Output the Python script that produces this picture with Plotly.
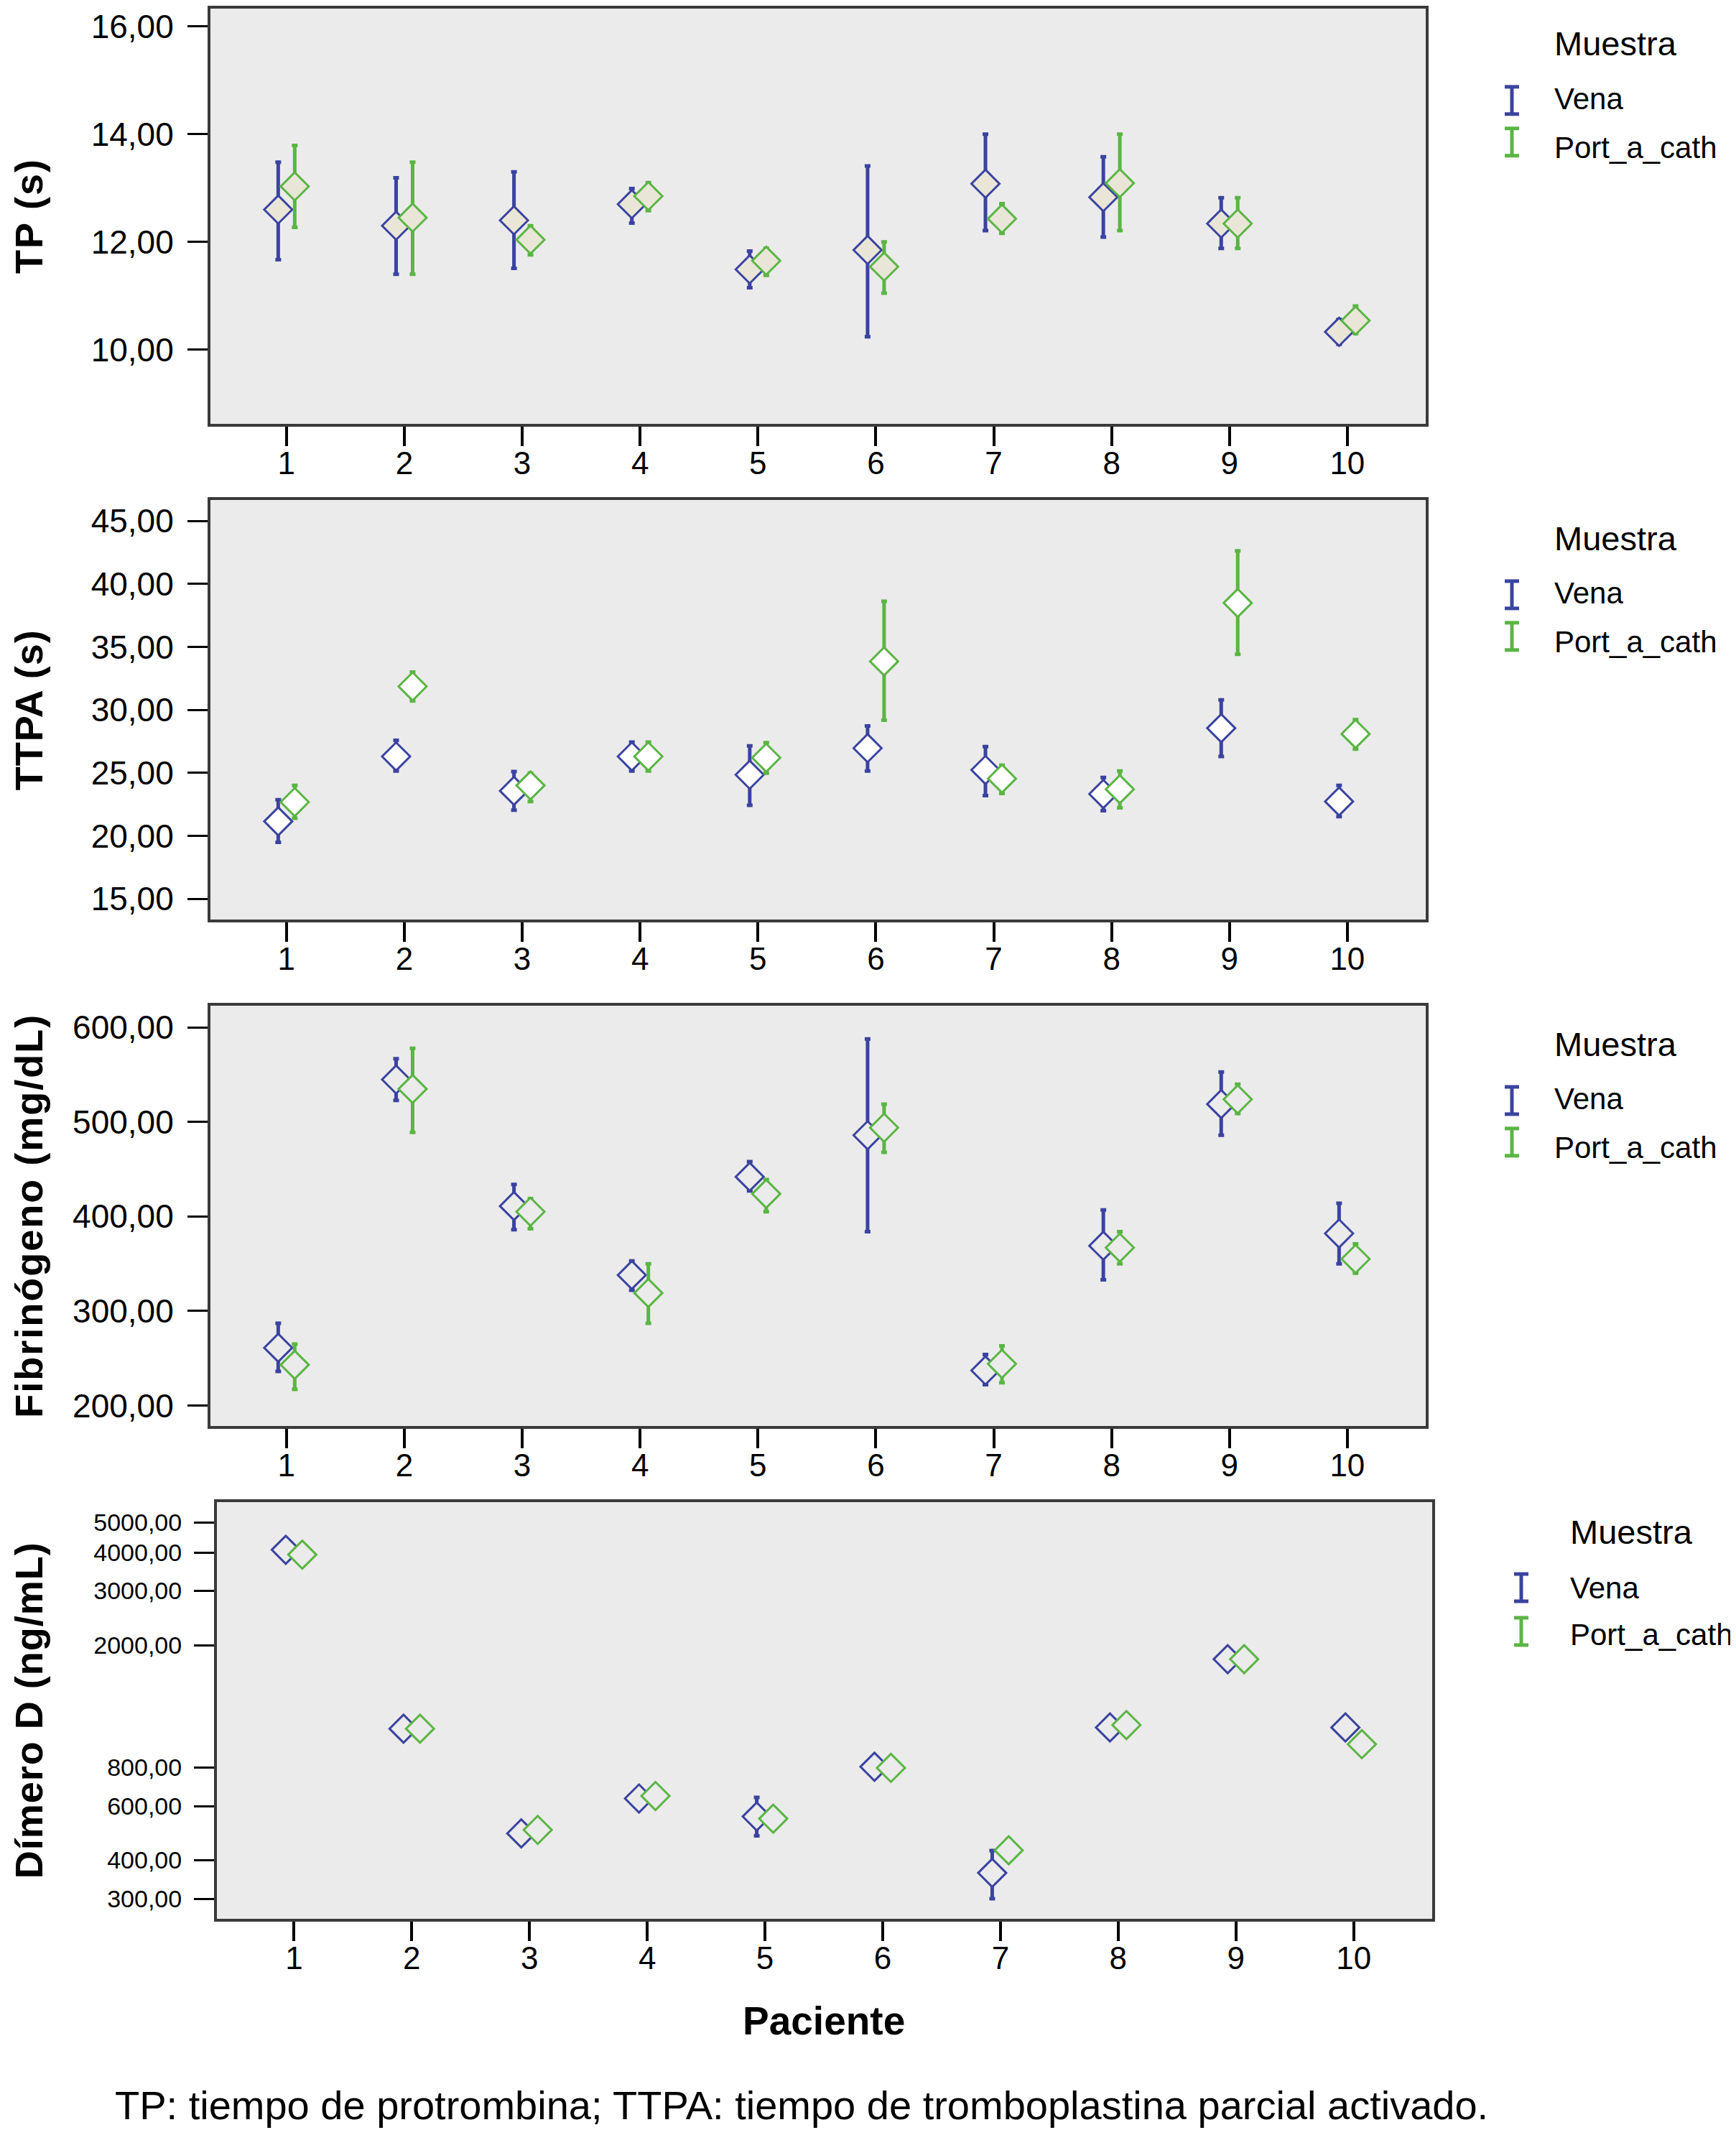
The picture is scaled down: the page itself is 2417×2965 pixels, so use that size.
import plotly.graph_objects as go
from plotly.subplots import make_subplots

W, H = 2417, 2965
# the page body adds an 8px margin, so the figure is drawn 8px in from the corner
PAD = 8
FW, FH = W - PAD, H - PAD

pacientes = [1, 2, 3, 4, 5, 6, 7, 8, 9, 10]

# TP (s)
tp_vena = [12.60, 12.30, 12.40, 12.70, 11.49, 11.85, 13.08, 12.83, 12.34, 10.33]
tp_vena_lo = [11.67, 11.40, 11.51, 12.35, 11.15, 10.24, 12.21, 12.09, 11.88, 10.10]
tp_vena_hi = [13.48, 13.19, 13.30, 12.99, 11.83, 13.41, 14.00, 13.58, 12.82, 10.56]
tp_port = [13.03, 12.45, 12.04, 12.85, 11.65, 11.54, 12.43, 13.09, 12.34, 10.54]
tp_port_lo = [12.27, 11.40, 11.76, 12.58, 11.38, 11.05, 12.16, 12.21, 11.88, 10.30]
tp_port_hi = [13.79, 13.48, 12.30, 13.10, 11.88, 12.00, 12.71, 14.00, 12.82, 10.81]

# TTPA (s)
ttpa_vena = [21.15, 26.30, 23.57, 26.30, 24.85, 26.96, 25.23, 23.32, 28.55, 22.73]
ttpa_vena_lo = [19.49, 25.15, 22.04, 25.15, 22.42, 25.15, 23.19, 21.99, 26.30, 21.53]
ttpa_vena_hi = [22.86, 27.58, 25.10, 27.45, 27.14, 28.72, 27.09, 24.64, 30.79, 24.00]
ttpa_port = [22.68, 31.86, 24.00, 26.30, 26.20, 33.85, 24.54, 23.70, 38.49, 28.09]
ttpa_port_lo = [21.40, 30.71, 22.73, 25.15, 24.97, 29.18, 23.37, 22.22, 34.41, 26.89]
ttpa_port_hi = [24.00, 33.01, 24.97, 27.45, 27.40, 38.62, 25.61, 25.15, 42.63, 29.23]

# Fibrinogeno (mg/dL)
fib_vena = [261, 545, 411, 338, 442, 486, 237, 369, 519, 382]
fib_vena_lo = [236, 523, 386, 322, 427, 384, 222, 333, 486, 350]
fib_vena_hi = [287, 567, 434, 353, 458, 588, 254, 407, 553, 414]
fib_port = [243, 535, 405, 319, 424, 494, 244, 367, 524, 355]
fib_port_lo = [217, 489, 387, 287, 405, 468, 224, 350, 509, 340]
fib_port_hi = [265, 578, 419, 350, 439, 519, 263, 384, 540, 371]

# Dimero D (ng/mL)
dd_vena = [4080, 1070, 489, 635, 555, 805, 364, 1080, 1800, 1080]
dd_vena_lo = [3950, 1040, 455, 595, 480, 755, 300, 1020, 1680, 1055]
dd_vena_hi = [4220, 1100, 520, 675, 640, 855, 430, 1140, 1930, 1105]
dd_port = [3934, 1070, 502, 647, 546, 798, 431, 1100, 1800, 953]
dd_port_lo = [3800, 1015, 480, 612, 520, 772, 398, 1060, 1710, 935]
dd_port_hi = [4070, 1125, 525, 688, 575, 825, 468, 1140, 1895, 972]

dd_ticks = [300, 400, 600, 800, 2000, 3000, 4000, 5000]

panels = [
    dict(title='TP (s)', vena=(tp_vena, tp_vena_lo, tp_vena_hi), port=(tp_port, tp_port_lo, tp_port_hi),
         fill='#e9e6d7', tsize=54, tspace=2),
    dict(title='TTPA (s)', vena=(ttpa_vena, ttpa_vena_lo, ttpa_vena_hi),
         port=(ttpa_port, ttpa_port_lo, ttpa_port_hi), fill='white', tsize=54, tspace=1),
    dict(title='Fibrinógeno (mg/dL)', vena=(fib_vena, fib_vena_lo, fib_vena_hi),
         port=(fib_port, fib_port_lo, fib_port_hi), fill='#ebebeb', tsize=54, tspace=2),
    dict(title='Dímero D (ng/mL)', vena=(dd_vena, dd_vena_lo, dd_vena_hi),
         port=(dd_port, dd_port_lo, dd_port_hi), fill='#ebebeb', tsize=54, tspace=1),
]

BLUE = '#3b43a0'
GREEN = '#5ab543'
FONT = 'Liberation Sans, Arial, sans-serif'

# plot boxes in page pixels: (left, top, right, bottom)
boxes = [(293, 8, 1985, 587), (293, 693, 1985, 1278), (293, 1398, 1985, 1984), (302, 2090, 1994, 2671)]
legend_tops = [4, 693, 1398, 2090]
y_ranges = [[8.62, 16.33], [13.34, 46.66], [178, 623], [2.411, 3.765]]


def px_x(x):
    return (x - PAD) / FW


def px_y(y):
    return 1 - (y - PAD) / FH


fig = make_subplots(rows=4, cols=1)

for i, p in enumerate(panels):
    row = i + 1
    for name, key, color in [('Vena', 'vena', BLUE), ('Port_a_cath', 'port', GREEN)]:
        mean, lo, hi = p[key]
        fig.add_trace(go.Scatter(
            x=pacientes,
            y=mean,
            mode='markers',
            name=name,
            offsetgroup=key,
            showlegend=False,
            marker=dict(symbol='diamond', size=30, color=p['fill'], line=dict(color=color, width=3)),
            error_y=dict(type='data', symmetric=False,
                         array=[h - m for h, m in zip(hi, mean)],
                         arrayminus=[m - l for m, l in zip(mean, lo)],
                         color=color, thickness=5, width=4),
        ), row=row, col=1)

    l, t, r, b = boxes[i]
    axis_style = dict(showline=True, mirror=True, linecolor='#3a3a3a', linewidth=4,
                      showgrid=False, zeroline=False, ticks='outside', tickcolor='black')
    fig.update_xaxes(domain=[px_x(l), px_x(r)], range=[0.355, 10.665] if i < 3 else [0.345, 10.667],
                     tickvals=pacientes, ticktext=[str(v) for v in pacientes],
                     ticklen=27, tickwidth=4, ticklabelstandoff=-14,
                     tickfont=dict(size=44, color='black', family=FONT),
                     row=row, col=1, **axis_style)
    yax = dict(domain=[px_y(b), px_y(t)], range=y_ranges[i], tickformat='.2f',
               ticklen=28, tickwidth=3, ticklabelstandoff=10,
               tickfont=dict(size=46 if i < 3 else 34, color='black', family=FONT))
    if i == 0:
        yax.update(dtick=2, tick0=0)
    elif i == 1:
        yax.update(dtick=5, tick0=0)
    elif i == 2:
        yax.update(dtick=100, tick0=0)
    else:
        yax.update(type='log', tickvals=dd_ticks)
    fig.update_yaxes(row=row, col=1, **yax, **axis_style)

    # y axis title
    title = '<span style="letter-spacing:%dpx"><b>%s</b></span>' % (p['tspace'], p['title'])
    fig.add_annotation(x=px_x(40), y=px_y((t + b) / 2), xref='paper', yref='paper',
                       xanchor='center', yanchor='middle',
                       text=title, textangle=-90, showarrow=False,
                       font=dict(size=p['tsize'], family=FONT, color='black'))

    # legend for this panel
    lt = legend_tops[i]
    if i < 3:
        lx, gx, dy_title, dy_vena, dy_port, gv, gp = 2162, 2105, 53, 130, 198, 132, 190
    else:
        lx, gx, dy_title, dy_vena, dy_port, gv, gp = 2184, 2118, 41, 119, 185, 119, 180
    fig.add_annotation(x=px_x(lx), y=px_y(lt + dy_title), xref='paper', yref='paper',
                       xanchor='left', yanchor='middle',
                       text='Muestra', showarrow=False, font=dict(size=47, family=FONT, color='black'))
    for label, dy, gy, color in [('Vena', dy_vena, gv, BLUE), ('Port_a_cath', dy_port, gp, GREEN)]:
        fig.add_annotation(x=px_x(lx), y=px_y(lt + dy), xref='paper', yref='paper',
                           xanchor='left', yanchor='middle',
                           text=label, showarrow=False, font=dict(size=42, family=FONT, color='black'))
        cy = lt + gy
        segs = [(gx, cy - 19, gx, cy + 19), (gx - 10, cy - 19, gx + 10, cy - 19),
                (gx - 10, cy + 19, gx + 10, cy + 19)]
        for x0, y0, x1, y1 in segs:
            fig.add_shape(type='line', xref='paper', yref='paper',
                          x0=px_x(x0), y0=px_y(y0), x1=px_x(x1), y1=px_y(y1),
                          line=dict(color=color, width=5))

fig.add_annotation(x=px_x(1147), y=px_y(2813), xref='paper', yref='paper',
                   xanchor='center', yanchor='middle', text='<b>Paciente</b>',
                   showarrow=False, font=dict(size=55, family=FONT, color='black'))
fig.add_annotation(x=px_x(1116), y=px_y(2930), xref='paper', yref='paper',
                   xanchor='center', yanchor='middle',
                   text='TP: tiempo de protrombina; TTPA: tiempo de tromboplastina parcial activado.',
                   showarrow=False, font=dict(size=56, family=FONT, color='black'))

fig.update_layout(
    width=FW, height=FH, autosize=False,
    margin=dict(l=0, r=0, t=0, b=0),
    paper_bgcolor='white',
    plot_bgcolor='#ebebeb',
    separators=',.',
    scattermode='group',
    scattergap=0.72,
    showlegend=False,
    font=dict(family=FONT, color='black'),
)

fig.write_html('out.html')
